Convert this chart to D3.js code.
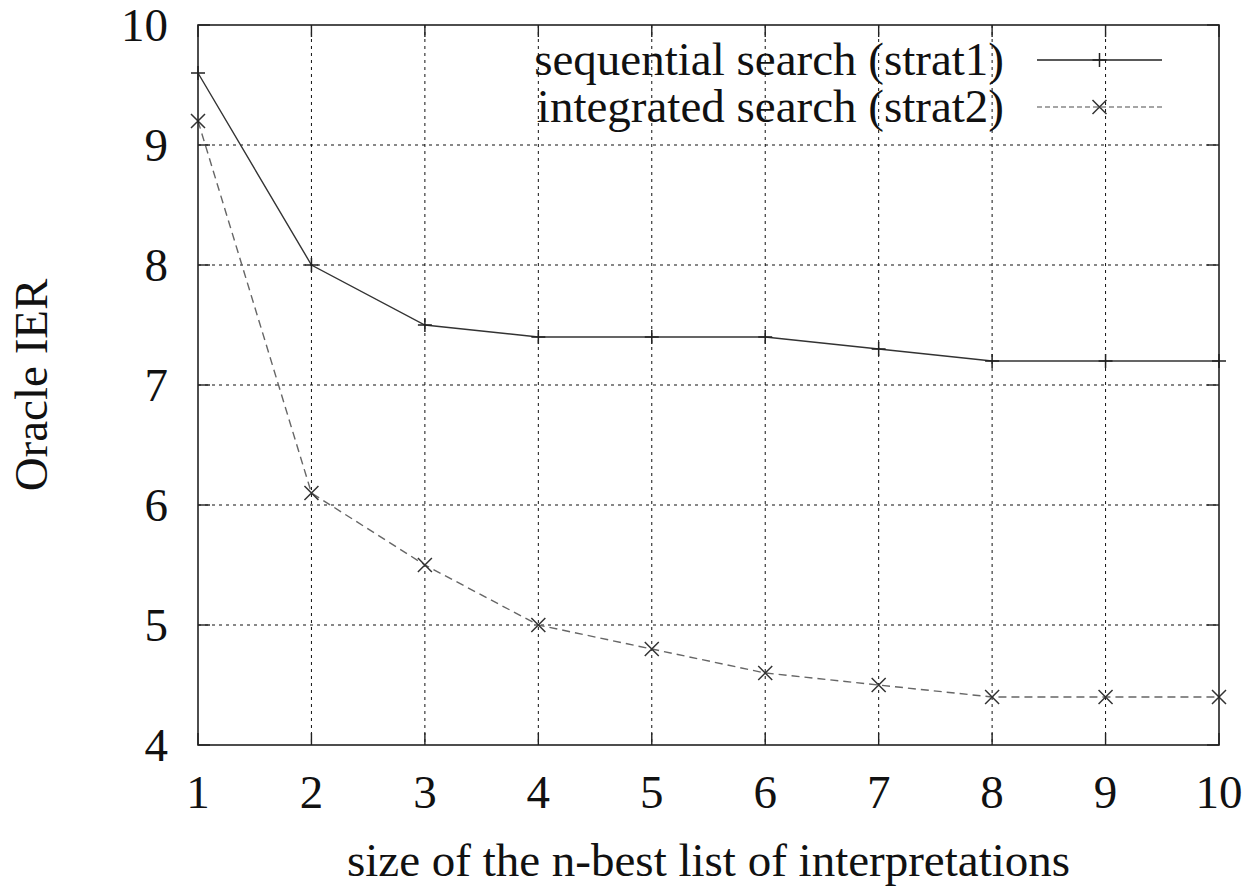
<!DOCTYPE html>
<meta charset="utf-8">
<style type="text/css">
body { margin: 0; background: #fff; }
svg text { font-family: "Liberation Serif", "Times New Roman", serif; fill: #111; }
.grid line { stroke: #111; stroke-width: 1; stroke-dasharray: 3,4; }
.frame { fill: none; stroke: #222; stroke-width: 1.6; }
.tick-mark { stroke: #222; stroke-width: 1.4; }
</style>
<body>
<div id="chart"></div>
<script src="https://cdnjs.cloudflare.com/ajax/libs/d3/7.8.5/d3.min.js"></script>
<script>

// data
var listSizes = [1, 2, 3, 4, 5, 6, 7, 8, 9, 10];
var strat1 = [9.6, 8.0, 7.5, 7.4, 7.4, 7.4, 7.3, 7.2, 7.2, 7.2];
var strat2 = [9.2, 6.1, 5.5, 5.0, 4.8, 4.6, 4.5, 4.4, 4.4, 4.4];
var yTicks = [4, 5, 6, 7, 8, 9, 10];
var seriesNames = ["sequential search (strat1)", "integrated search (strat2)"];
var xTitle = "size of the n-best list of interpretations";
var yTitle = "Oracle IER";

var W = 1253, H = 888;
var margin = {top: 25, left: 198, right: 34, bottom: 143};
var iw = W - margin.left - margin.right,
    ih = H - margin.top - margin.bottom;
var fs = "47px";

var svg = d3.select("#chart").append("svg")
  .attr("width", W)
  .attr("height", H);

var g = svg.append("g").attr("transform", "translate(" + margin.left + "," + margin.top + ")");

var x = d3.scaleLinear().domain([1, 10]).range([0, iw]);
var y = d3.scaleLinear().domain([4, 10]).range([ih, 0]);

//grid lines (skip the ones sitting on the frame)
var grid = g.append("g").attr("class", "grid");
grid.selectAll("line.gx")
  .data(listSizes.filter(function(d) { return d > 1 && d < 10; }))
  .enter().append("line")
  .attr("x1", function(d) { return x(d); })
  .attr("x2", function(d) { return x(d); })
  .attr("y1", 0).attr("y2", ih);
grid.selectAll("line.gy")
  .data(yTicks.filter(function(d) { return d > 4 && d < 10; }))
  .enter().append("line")
  .attr("x1", 0).attr("x2", iw)
  .attr("y1", function(d) { return y(d); })
  .attr("y2", function(d) { return y(d); });

//inward ticks on all four sides
var tl = 12;
var ticks = g.append("g");
listSizes.forEach(function(d) {
  ticks.append("line").attr("class", "tick-mark")
    .attr("x1", x(d)).attr("x2", x(d)).attr("y1", ih).attr("y2", ih - tl);
  ticks.append("line").attr("class", "tick-mark")
    .attr("x1", x(d)).attr("x2", x(d)).attr("y1", 0).attr("y2", tl);
});
yTicks.forEach(function(d) {
  ticks.append("line").attr("class", "tick-mark")
    .attr("x1", 0).attr("x2", tl).attr("y1", y(d)).attr("y2", y(d));
  ticks.append("line").attr("class", "tick-mark")
    .attr("x1", iw).attr("x2", iw - tl).attr("y1", y(d)).attr("y2", y(d));
});

//tick labels
g.selectAll("text.xl")
  .data(listSizes)
  .enter().append("text")
  .attr("x", function(d) { return x(d); })
  .attr("y", ih + 63)
  .attr("text-anchor", "middle")
  .style("font-size", fs)
  .text(function(d) { return d; });

g.selectAll("text.yl")
  .data(yTicks)
  .enter().append("text")
  .attr("x", -30)
  .attr("y", function(d) { return y(d) + 16; })
  .attr("text-anchor", "end")
  .style("font-size", fs)
  .text(function(d) { return d; });

//axis titles
g.append("text")
  .attr("x", iw / 2)
  .attr("y", ih + 131)
  .attr("text-anchor", "middle")
  .style("font-size", fs)
  .text(xTitle);

svg.append("text")
  .attr("transform", "translate(47," + (margin.top + ih / 2) + ") rotate(-90)")
  .attr("text-anchor", "middle")
  .style("font-size", fs)
  .text(yTitle);

//lines
var line = d3.line()
  .x(function(d, i) { return x(listSizes[i]); })
  .y(function(d) { return y(d); });

g.append("path")
  .datum(strat1)
  .attr("d", line)
  .attr("fill", "none")
  .attr("stroke", "#333")
  .attr("stroke-width", 1.4);

g.append("path")
  .datum(strat2)
  .attr("d", line)
  .attr("fill", "none")
  .attr("stroke", "#666")
  .attr("stroke-width", 1.4)
  .attr("stroke-dasharray", "8,5");

var ms = 7;
function plus(sel, cx, cy) {
  sel.append("path")
    .attr("d", "M" + (cx - ms) + "," + cy + "H" + (cx + ms) + "M" + cx + "," + (cy - ms) + "V" + (cy + ms))
    .attr("stroke", "#222").attr("stroke-width", 1.5);
}
function cross(sel, cx, cy) {
  sel.append("path")
    .attr("d", "M" + (cx - ms) + "," + (cy - ms) + "L" + (cx + ms) + "," + (cy + ms) +
               "M" + (cx - ms) + "," + (cy + ms) + "L" + (cx + ms) + "," + (cy - ms))
    .attr("stroke", "#333").attr("stroke-width", 1.5);
}

strat1.forEach(function(d, i) { plus(g, x(listSizes[i]), y(d)); });
strat2.forEach(function(d, i) { cross(g, x(listSizes[i]), y(d)); });

//frame
g.append("rect").attr("class", "frame")
  .attr("x", 0).attr("y", 0).attr("width", iw).attr("height", ih);

//legend
var legX = 1004, legL1 = 1037, legL2 = 1162;
var legRows = [60, 107];
legRows.forEach(function(ly, i) {
  svg.append("text")
    .attr("x", legX)
    .attr("y", ly + 15)
    .attr("text-anchor", "end")
    .style("font-size", fs)
    .text(seriesNames[i]);
  var l = svg.append("line")
    .attr("x1", legL1).attr("x2", legL2)
    .attr("y1", ly).attr("y2", ly)
    .attr("stroke-width", 1.4);
  if (i == 0) {
    l.attr("stroke", "#222");
    plus(svg, (legL1 + legL2) / 2, ly);
  } else {
    l.attr("stroke", "#888").attr("stroke-dasharray", "5,3");
    cross(svg, (legL1 + legL2) / 2, ly);
  }
});

</script>
</body>
